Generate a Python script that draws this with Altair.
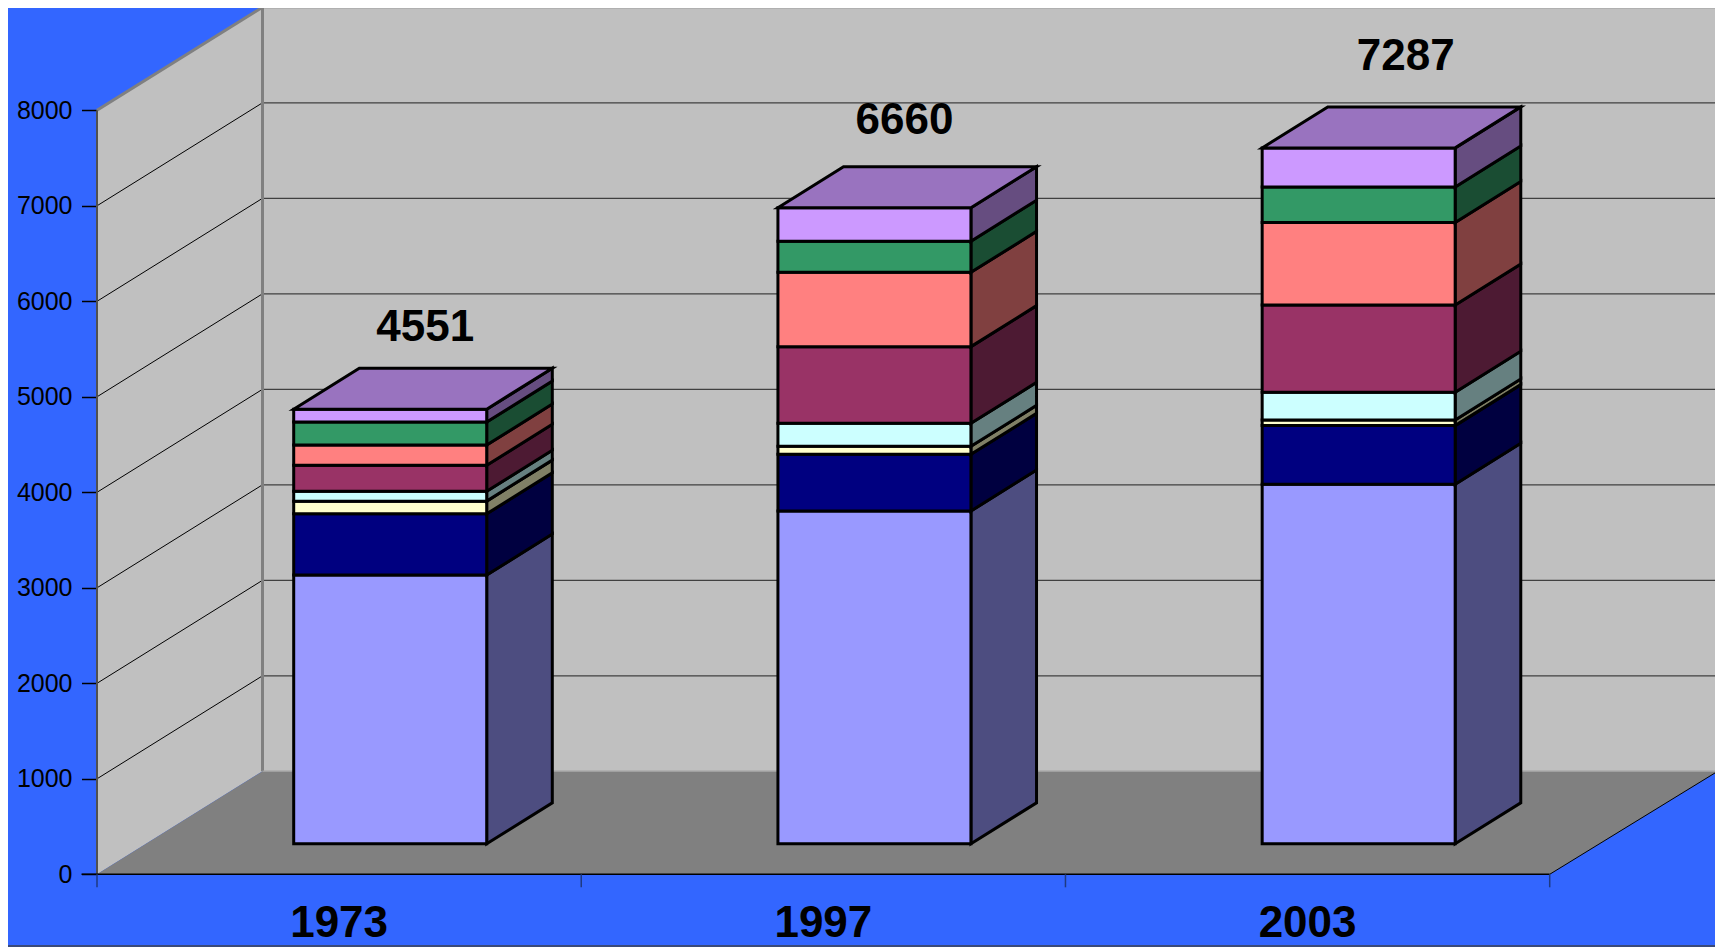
import altair as alt
import pandas as pd

# ---------- data ----------
years = ["1973", "1997", "2003"]
totals = [4551, 6660, 7287]
light = [2815, 3485, 3765]
navy = [640, 593, 614]
yellow = [133, 84, 59]
cyan = [104, 241, 291]
magenta = [272, 803, 912]
salmon = [212, 778, 865]
green = [240, 326, 372]
purple = [135, 350, 409]
y_ticks = [0, 1000, 2000, 3000, 4000, 5000, 6000, 7000, 8000]

series = [light, navy, yellow, cyan, magenta, salmon, green, purple]
front_cols = ["#9999FF", "#000080", "#FFFFCC", "#CCFFFF", "#993366", "#FF8080", "#339966", "#CC99FF"]
side_cols = ["#4D4D80", "#000040", "#808066", "#668080", "#4D1A33", "#804040", "#1A4D33", "#664D80"]
top_col = "#9973BF"

# ---------- layout (page pixels for x, value units for y) ----------
W, H = 1707, 939
PX = 0.0955                    # pixels per value unit
Y_TOP = (874.3 - 8) / PX
Y_BOT = (874.3 - 947) / PX
FX0, FX1 = 97.0, 1549.7        # floor front edge
WDX, WDV = 165.5, 103 / PX     # wall depth
WTOP = 8000
SLOT = (FX1 - FX0) / 3
BAR_W = 193.0
BAR_INSET = 196.7
BAR_BASE = 30.5 / PX
BDX, BDV = 65.6, 41 / PX
LABEL_DX = [35, 30, 47]
LABEL_DY = [81, 87, 91]

x_s = alt.Scale(domain=[8, 8 + W], range=[0, W], nice=False, zero=False)
y_s = alt.Scale(domain=[Y_BOT, Y_TOP], range=[H, 0], nice=False, zero=False)

# ---------- polygons ----------
def poly(rows, pid, pts, fill):
    for x, a, b in pts:
        rows.append(dict(pid=pid, x=x, y=a, y2=b, fill=fill))

wall_rows = []
BX0, BX1 = FX0 + WDX, FX1 + 168
poly(wall_rows, "back", [(BX0, WDV, WTOP + WDV), (BX1, WDV, WTOP + WDV)], "#C0C0C0")
poly(wall_rows, "left", [(FX0, 0, WTOP), (BX0, WDV, WTOP + WDV)], "#C0C0C0")
poly(wall_rows, "floor", [(FX0, 0, 0), (BX0, 0, WDV), (FX1, 0, WDV), (BX1, WDV, WDV)], "#808080")

bar_rows = []
for i in range(3):
    a = FX0 + SLOT * i + BAR_INSET
    b = a + BAR_W
    base = 0.0
    for k, s in enumerate(series):
        v0 = base + BAR_BASE
        v1 = v0 + s[i]
        poly(bar_rows, f"s{i}{k}", [(b, v0, v1), (b + BDX, v0 + BDV, v1 + BDV)], side_cols[k])
        poly(bar_rows, f"f{i}{k}", [(a, v0, v1), (b, v0, v1)], front_cols[k])
        base += s[i]
    t = base + BAR_BASE
    poly(bar_rows, f"t{i}", [(a, t, t), (a + BDX, t, t + BDV), (b, t, t + BDV), (b + BDX, t + BDV, t + BDV)], top_col)

# ---------- lines ----------
def seg(x, x2, v, v2, col, w):
    return dict(x=x, x2=x2, y=v, y2=v2, col=col, w=w)

line_rows = []
for t in y_ticks:
    if 0 < t < WTOP:
        line_rows.append(seg(BX0, BX1, t + WDV, t + WDV, "#404040", 1.3))
        line_rows.append(seg(FX0, BX0, t, t + WDV, "#000000", 1))
line_rows += [
    seg(FX0, BX0, WTOP, WTOP + WDV, "#808080", 3),
    seg(BX0, BX1, WTOP + WDV, WTOP + WDV, "#A0A0A0", 2.5),
    seg(BX0, BX0, WDV, WTOP + WDV, "#808080", 3),
    seg(BX1, BX1, WDV, WTOP + WDV, "#808080", 3),
    seg(BX0, BX1, WDV, WDV, "#A0A0A0", 1.5),
    seg(FX0, FX0, 0, WTOP, "#505050", 2),
    seg(FX1, BX1, 0, WDV, "#000000", 1),
    seg(FX0 - 15.5, FX1, 0, 0, "#000000", 1.5),
    seg(8, 8 + W, (874.3 - 946) / PX, (874.3 - 946) / PX, "#3A4A7A", 2),
]
for i in range(4):
    x = FX0 + SLOT * i
    line_rows.append(seg(x, x, 0, -13 / PX, "#1F3A80", 1.5))

# ---------- text ----------
cat_rows = [dict(x=FX0 + SLOT * (i + 0.5), y=(874.3 - 924) / PX, t=years[i]) for i in range(3)]
val_rows = []
for i in range(3):
    a = FX0 + SLOT * i + BAR_INSET
    val_rows.append(dict(x=a + BAR_W / 2 + LABEL_DX[i],
                         y=totals[i] + BAR_BASE + LABEL_DY[i] / PX,
                         t=str(totals[i])))

X = alt.X("x:Q", scale=x_s, axis=None)
Y = alt.Y("y:Q", scale=y_s, axis=alt.Axis(
    values=y_ticks, orient="left", offset=-89, domain=False, grid=False, title=None,
    tickSize=15.5, tickColor="#000000", tickWidth=1.5, labelPadding=9.5, labelFontSize=25,
    labelFont="Liberation Sans", labelColor="#000000", format="d"))

walls = alt.Chart(pd.DataFrame(wall_rows)).mark_area(orient="vertical", strokeWidth=0).encode(
    x=X, y=Y, y2="y2:Q", fill=alt.Fill("fill:N", scale=None), detail="pid:N")

lines = alt.Chart(pd.DataFrame(line_rows)).mark_rule().encode(
    x=X, x2="x2:Q", y=Y, y2="y2:Q",
    stroke=alt.Stroke("col:N", scale=None), strokeWidth=alt.StrokeWidth("w:Q", scale=None))

bars = alt.Chart(pd.DataFrame(bar_rows)).mark_area(
    orient="vertical", stroke="#000000", strokeWidth=3, strokeJoin="miter").encode(
    x=X, y=Y, y2="y2:Q", fill=alt.Fill("fill:N", scale=None), detail="pid:N")

val_text = alt.Chart(pd.DataFrame(val_rows)).mark_text(
    font="Liberation Sans", fontWeight="bold", fontSize=44, color="#000000",
    align="center", baseline="middle").encode(x=X, y=Y, text="t:N")

cat_text = alt.Chart(pd.DataFrame(cat_rows)).mark_text(
    font="Liberation Sans", fontWeight="bold", fontSize=44, color="#000000",
    align="center", baseline="middle").encode(x=X, y=Y, text="t:N")

chart = alt.layer(walls, lines, bars, val_text, cat_text).properties(
    width=W, height=H, background="#3366FF", padding=0,
    autosize=alt.AutoSizeParams(type="none")
).configure_view(stroke=None)

chart.save("out.html", embed_options={"renderer": "svg", "actions": False})
